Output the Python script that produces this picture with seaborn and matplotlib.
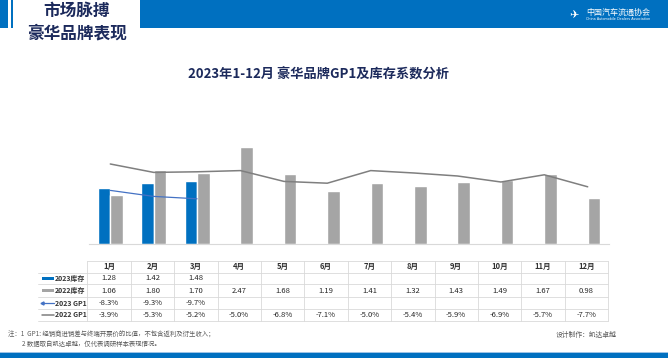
import numpy as np
import pandas as pd
import matplotlib.pyplot as plt
from matplotlib.patches import Rectangle
import seaborn as sns

sns.set_style('white')
plt.rcParams['font.family'] = ['Noto Sans CJK SC', 'DejaVu Sans']
plt.rcParams['axes.unicode_minus'] = False

# 데이터
months = ['1月', '2月', '3月', '4月', '5月', '6月', '7月', '8月', '9月', '10月', '11月', '12月']
stock_2023 = [1.28, 1.42, 1.48]
stock_2022 = [1.06, 1.80, 1.70, 2.47, 1.68, 1.19, 1.41, 1.32, 1.43, 1.49, 1.67, 0.98]
gp1_2023 = [-8.3, -9.3, -9.7]
gp1_2022 = [-3.9, -5.3, -5.2, -5.0, -6.8, -7.1, -5.0, -5.4, -5.9, -6.9, -5.7, -7.7]
series = ['2023库存', '2022库存']

BLUE = '#0070c0'
GREY = '#a5a5a5'
LINE_BLUE = '#4472c4'
LINE_GREY = '#7f7f7f'
NAVY = '#1c2a5c'

df = pd.concat([
    pd.DataFrame({'month': months[:len(stock_2023)], 'series': series[0], 'value': stock_2023}),
    pd.DataFrame({'month': months, 'series': series[1], 'value': stock_2022}),
])

W, H = 668, 358
fig = plt.figure(figsize=(W / 100, H / 100), dpi=100)

# 차트 영역 (픽셀 기준)
x0, x1, ytop, ybot = 88.6, 609.4, 129, 244
ax = fig.add_axes([x0 / W, 1 - ybot / H, (x1 - x0) / W, (ybot - ytop) / H])
ax.set_facecolor('none')

sns.barplot(data=df, x='month', y='value', hue='series', order=months,
            hue_order=series, palette=[BLUE, GREY], width=0.576,
            legend=False, ax=ax, saturation=1)
ymin = -0.38
ax.set_ylim(ymin, 3.0)
# 엑셀처럼 막대를 축 바닥부터 그리기
for p in ax.patches:
    p.set_y(ymin)
    p.set_height(p.get_height() - ymin)

ax2 = ax.twinx()
pos = np.arange(len(months))
sns.lineplot(x=pos, y=gp1_2022, ax=ax2, color=LINE_GREY, linewidth=1.1)
sns.lineplot(x=pos[:len(gp1_2023)], y=gp1_2023, ax=ax2, color=LINE_BLUE, linewidth=0.9)
ax2.set_ylim(-17.23, 1.93)
ax.set_xlim(-0.5, 11.5)

for a in (ax, ax2):
    a.set_xlabel('')
    a.set_ylabel('')
    a.set_yticks([])
    a.set_xticks([])
    for s in a.spines.values():
        s.set_visible(False)
ax.spines['bottom'].set_visible(True)
ax.spines['bottom'].set_color('#d9d9d9')
ax.spines['bottom'].set_linewidth(0.8)

# 오버레이 (헤더, 표, 주석)
ov = fig.add_axes([0, 0, 1, 1])
ov.set_xlim(0, W)
ov.set_ylim(H, 0)
ov.set_axis_off()

# 상단 헤더
ov.add_patch(Rectangle((140, 0), W - 140, 28, color=BLUE, lw=0))
ov.add_patch(Rectangle((0, 0), 8, 28, color=BLUE, lw=0))
ov.add_patch(Rectangle((11, 0), 2, 28, color=BLUE, lw=0))
ov.text(77, 11, '市场脉搏', fontsize=12, fontweight='bold', color=NAVY, ha='center', va='center')
ov.text(77, 34, '豪华品牌表现', fontsize=12, fontweight='bold', color=NAVY, ha='center', va='center')
ov.text(618, 12.5, '中国汽车流通协会', fontsize=5.8, color='white', ha='center', va='center')
ov.text(618, 19.5, 'China Automobile Dealers Association', fontsize=2.4, color='white',
        ha='center', va='center', family='DejaVu Sans')
ov.text(574, 15, '✈', fontsize=8, color='white', ha='center', va='center', family='DejaVu Sans')

# 차트 제목
ov.text(319, 75, '2023年1-12月 豪华品牌GP1及库存系数分析', fontsize=9.5,
        fontweight='bold', color=NAVY, ha='center', va='center')

# 표
grid = '#d9d9d9'
rows = [261, 272.7, 284.3, 297, 309.3, 320.5]
lab_l, lab_r = 38, 87.3
col_w = (x1 - x0) / 12
col_edges = [lab_r + i * col_w for i in range(13)]
centers = [lab_r + (i + 0.5) * col_w for i in range(12)]
for y in rows:
    left = lab_r if y == rows[0] else lab_l
    ov.plot([left, col_edges[-1]], [y, y], color=grid, lw=0.6)
for xe in col_edges:
    ov.plot([xe, xe], [rows[0], rows[-1]], color=grid, lw=0.6)

rc = [(rows[i] + rows[i + 1]) / 2 for i in range(5)]
for i, m in enumerate(months):
    ov.text(centers[i], rc[0], m, fontsize=5.5, fontweight='bold', color='#333333', ha='center', va='center')

table_rows = [
    ('2023库存', stock_2023, '{:.2f}'),
    ('2022库存', stock_2022, '{:.2f}'),
    ('2023 GP1', gp1_2023, '{:.1f}%'),
    ('2022 GP1', gp1_2022, '{:.1f}%'),
]
for r, (name, vals, fmt) in enumerate(table_rows):
    yc = rc[r + 1]
    for i, v in enumerate(vals):
        ov.text(centers[i], yc, fmt.format(v), fontsize=5.5, color='#262626', ha='center', va='center')
    ov.text(55, yc, name, fontsize=5.0, fontweight='bold', color='#333333', ha='left', va='center')

# 범례 키
ov.add_patch(Rectangle((41.7, rc[1] - 1.5), 12, 3, color=BLUE, lw=0))
ov.add_patch(Rectangle((41.7, rc[2] - 1.5), 12, 3, color=GREY, lw=0))
ov.plot([41.5, 53.7], [rc[3], rc[3]], color=LINE_BLUE, lw=0.9)
ov.plot([41.5], [rc[3]], marker='<', ms=2.2, color=LINE_BLUE)
ov.plot([41.5, 53.7], [rc[4], rc[4]], color=LINE_GREY, lw=1.1)

# 주석
ov.text(8, 335, '注：1  GP1: 经销商进销差与终端开票价的比值，不包含返利及衍生收入；',
        fontsize=4.6, color='#595959', ha='left', va='center')
ov.text(22.5, 344, '2 数据取自凯达卓越，仅代表调研样本表现情况。',
        fontsize=4.6, color='#595959', ha='left', va='center')
ov.text(616, 335, '设计制作：凯达卓越', fontsize=4.9, color='#595959', ha='right', va='center')

# 하단 바
ov.add_patch(Rectangle((0, 351.5), W, 1.6, color='#9dc3e6', lw=0))
ov.add_patch(Rectangle((0, 353.1), W, 5, color=BLUE, lw=0))

fig.savefig('out.png', dpi=100)
